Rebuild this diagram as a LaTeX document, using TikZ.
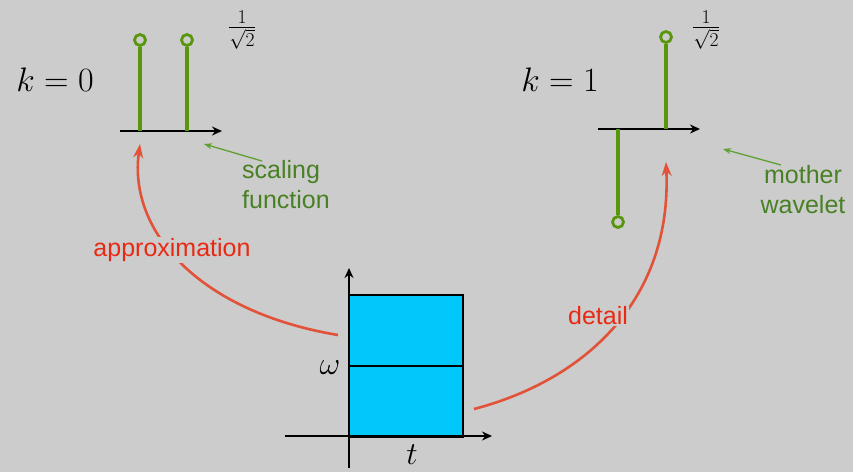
\RequirePackage{fix-cm}
\documentclass[tikz,border=0pt]{standalone}
\usepackage{amsmath,amssymb}
\usepackage{fontspec}
\setmainfont{Liberation Sans}
\usepackage{tikz}
\usetikzlibrary{arrows.meta}
\usepackage{xcolor}
\definecolor{fondo}{RGB}{204,204,204}
\definecolor{tallo}{RGB}{88,150,12}
\definecolor{verdetxt}{RGB}{72,128,36}
\definecolor{verdeflecha}{RGB}{96,160,50}
\definecolor{rojotxt}{RGB}{232,42,20}
\definecolor{rojocurva}{RGB}{226,82,56}
\definecolor{celda}{RGB}{0,200,250}

\tikzset{
  eje/.style={line width=1.6pt,-{Stealth[length=10pt,width=9pt]}},
  punta/.style={circle,draw=tallo,line width=2.8pt,inner sep=0pt,minimum size=11pt},
  tallolinea/.style={draw=tallo,line width=3.4pt},
  etiqueta/.style={font=\fontsize{25}{30}\selectfont,align=center,inner sep=1pt},
  nota/.style={draw=verdeflecha,line width=1.3pt,-{Stealth[length=8pt,width=6pt]}},
  curva/.style={draw=rojocurva,line width=2.6pt,-{Stealth[length=14pt,width=10pt]}},
  celdabox/.style={draw,fill=celda,line width=2pt,minimum width=114pt,minimum height=71pt,inner sep=0pt}
}

\begin{document}
\begin{tikzpicture}[x=1pt,y=-1pt]
  \useasboundingbox[fill=fondo] (0,0) rectangle (853,472);
  % k = 0 : funcion de escala
  \node at (55,80) {\fontsize{34}{40}\selectfont $k=0$};
  \coordinate (ejeA0) at (120,131);
  \coordinate (ejeA1) at (222,131);
  \draw[eje] (ejeA0) -- (ejeA1);
  \coordinate (baseA) at (140,131);
  \coordinate (baseB) at (187,131);
  \node[punta] (puntaA) at (140,40) {};
  \node[punta] (puntaB) at (187,40) {};
  \draw[tallolinea] (baseA) -- (puntaA);
  \draw[tallolinea] (baseB) -- (puntaB);
  \node (valA) at (242,30) {\fontsize{28}{32}\selectfont $\frac{1}{\sqrt{2}}$};
  % k = 1 : ondicula madre
  \node at (560,80) {\fontsize{34}{40}\selectfont $k=1$};
  \coordinate (ejeB0) at (598,129);
  \coordinate (ejeB1) at (700,129);
  \draw[eje] (ejeB0) -- (ejeB1);
  \coordinate (baseC) at (618,129);
  \coordinate (baseD) at (666,129);
  \node[punta] (puntaC) at (618,222) {};
  \node[punta] (puntaD) at (666,37) {};
  \draw[tallolinea] (baseC) -- (puntaC);
  \draw[tallolinea] (baseD) -- (puntaD);
  \node (valB) at (706,30) {\fontsize{28}{32}\selectfont $\frac{1}{\sqrt{2}}$};
  % notas en verde
  \node[etiqueta,text=verdetxt,align=left] (escala) at (286,185) {scaling\\function};
  \coordinate (notaA) at (204,144);
  \draw[nota] (262,161) -- (notaA);
  \node[etiqueta,text=verdetxt] (madre) at (803,190) {mother\\wavelet};
  \coordinate (notaB) at (723,149);
  \draw[nota] (781,165) -- (notaB);
  % plano tiempo-frecuencia
  \node[celdabox] (baja) at (406,401) {};
  \node[celdabox] (alta) at (406,330) {};
  \draw[eje] (285,436) -- (492,436);
  \draw[eje] (349,468) -- (349,268);
  \node at (330,368) {\fontsize{32}{36}\selectfont $\omega$};
  \node at (412,455) {\fontsize{32}{36}\selectfont $t$};
  % aproximacion y detalle
  \coordinate (salidaA) at (338,335);
  \coordinate (llegadaA) at (140,144);
  \draw[curva] (salidaA) .. controls (200,312) and (128,232) .. (llegadaA);
  \node[etiqueta,text=rojotxt,fill=fondo] (aprox) at (172,250) {approximation};
  \coordinate (salidaB) at (474,409);
  \coordinate (llegadaB) at (666,162);
  \draw[curva] (salidaB) .. controls (585,380) and (672,300) .. (llegadaB);
  \node[etiqueta,text=rojotxt,fill=fondo] (detalle) at (598,316) {detail};
\end{tikzpicture}
\end{document}
